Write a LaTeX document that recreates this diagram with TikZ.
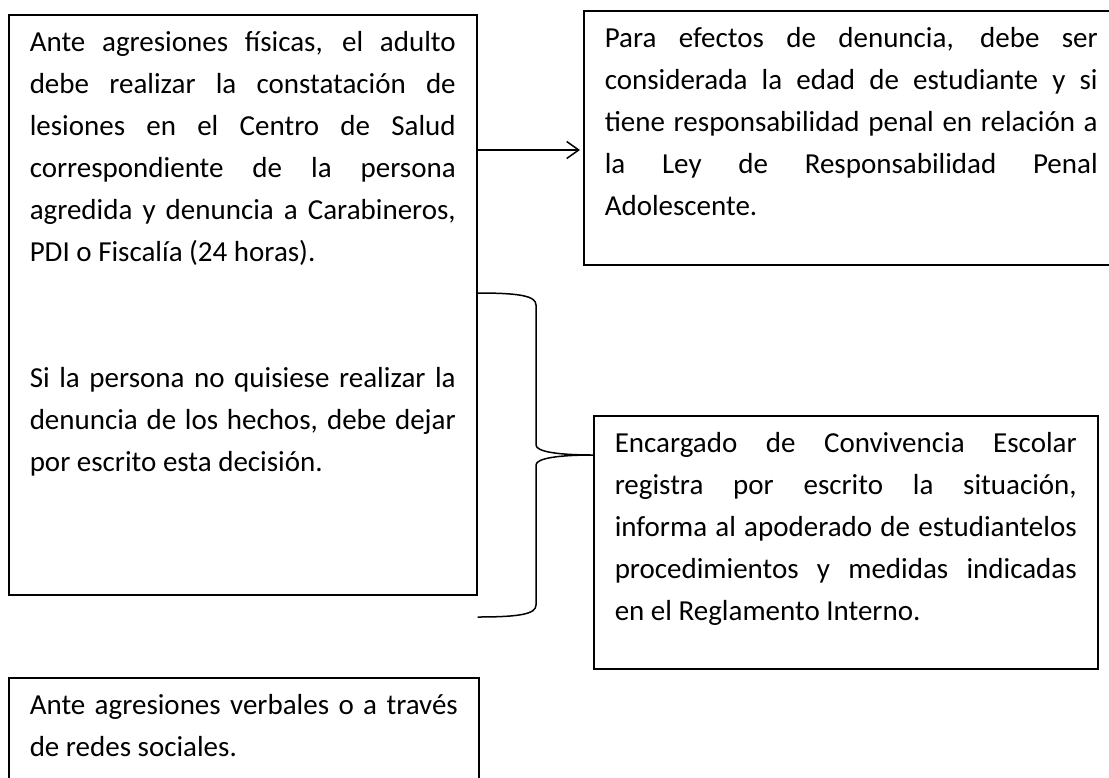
\documentclass[tikz,border=0pt]{standalone}
\usepackage{fontspec}
\setmainfont{Carlito}
\usetikzlibrary{arrows.meta}
\tolerance=10000
\hbadness=10000
\hyphenpenalty=10000

\begin{document}
\begin{tikzpicture}[
                x=1pt, y=-1pt, line width=1.5pt,
                box/.style={rectangle,draw=black,anchor=north west,align=justify,
                    inner xsep=21pt,inner ysep=0pt,text height=37pt,
                    font=\fontsize{29}{42}\selectfont},
                arrow/.style={-{Straight Barb[length=12pt,width=17pt]},shorten >=3pt},
            ]
            \useasboundingbox (0,0) rectangle (1109,777);

            % Define nodes
            \node[box,text width=426pt,text depth=543pt] (fisica) at (8,14) {Ante agresiones físicas, el adulto\linebreak
                debe realizar la constatación de\linebreak
                lesiones en el Centro de Salud\linebreak
                correspondiente de la persona\linebreak
                agredida y denuncia a Carabineros,\linebreak
                PDI o Fiscalía (24 horas).\par\vspace{84pt}
                Si la persona no quisiese realizar la\linebreak
                denuncia de los hechos, debe dejar\linebreak
                por escrito esta decisión.};
            \node[box,text width=493pt,text depth=217pt] (denuncia) at (583,10) {Para efectos de denuncia, debe ser\linebreak
                considerada la edad de estudiante y si\linebreak
                tiene responsabilidad penal en relación a\linebreak
                la Ley de Responsabilidad Penal\linebreak
                Adolescente.};
            \node[box,text width=462pt,text depth=216pt] (encargado) at (593,415) {Encargado de Convivencia Escolar\linebreak
                registra por escrito la situación,\linebreak
                informa al apoderado de estudiantelos\linebreak
                procedimientos y medidas indicadas\linebreak
                en el Reglamento Interno.};
            \node[box,text width=428pt,text depth=93pt] (verbal) at (8,677) {Ante agresiones verbales o a través\linebreak
                de redes sociales.};

            % Draw connections
            \coordinate (flecha) at (0,150);
            \draw[arrow] (fisica.east |- flecha) -- (denuncia.west |- flecha);

            % Draw brace
            \coordinate (punta) at (encargado.west |- 0,455);
            \draw (fisica.east |- 0,293) .. controls (520,293) and (536,296) .. (536,305) -- (536,445)
                .. controls (536,452) and (560,455) .. (punta)
                .. controls (560,455) and (536,458) .. (536,465) -- (536,605)
                .. controls (536,614) and (520,617) .. (fisica.east |- 0,617);

\end{tikzpicture}
\end{document}
